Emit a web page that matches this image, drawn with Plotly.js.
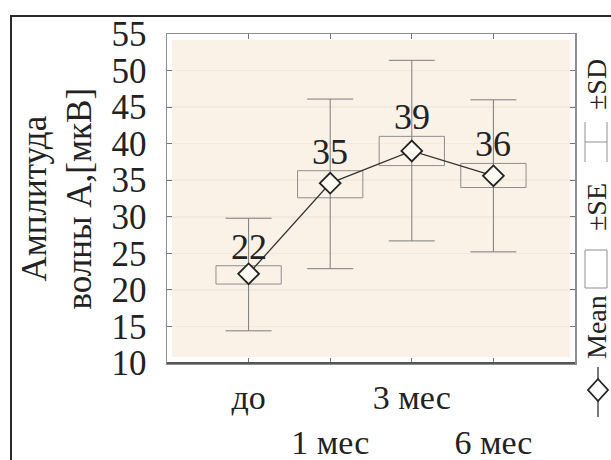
<!DOCTYPE html>
<html><head><meta charset="utf-8">
<script src="https://cdn.plot.ly/plotly-3.0.1.min.js"></script>
<style>
html,body{margin:0;padding:0;background:#fff;overflow:hidden;width:611px;height:460px}
#chart{position:absolute;left:0;top:0;width:611px;height:460px}
#frame{position:absolute;left:10px;top:15px;width:700px;height:600px;border:2px solid #2a2a2a;pointer-events:none}
</style></head><body>
<div id="chart"></div><div id="frame"></div>
<script>
// ---- data ----
const categories = ["до", "1 мес", "3 мес", "6 мес"];
const means  = [22.2, 34.6, 39.0, 35.6];
const seLow  = [20.8, 32.6, 37.0, 34.0];
const seHigh = [23.3, 36.3, 41.0, 37.3];
const sdLow  = [14.4, 22.9, 26.7, 25.2];
const sdHigh = [29.8, 46.1, 51.4, 46.0];
const yTicks = [10, 15, 20, 25, 30, 35, 40, 45, 50, 55];
const legendLabels = ["Mean", "±SE", "±SD"];
const yTitle = "Амплитуда<br>волны А,[мкВ]";

const FONT = "Liberation Serif";
const xs = categories.map((_, i) => i);
const tickText = categories.map((c, i) => (i % 2 ? "<br>" + c : c));

const traces = [
  { type: "bar", x: xs, base: seLow, y: seHigh.map((h, i) => h - seLow[i]), width: 0.8,
    marker: { color: "rgba(0,0,0,0)", line: { color: "#8e8e8e", width: 1 } },
    hoverinfo: "skip", showlegend: false },
  { type: "scatter", mode: "markers", x: xs, y: means,
    marker: { opacity: 0, size: 1 },
    error_y: { type: "data", symmetric: false,
      array: sdHigh.map((h, i) => h - means[i]),
      arrayminus: means.map((m, i) => m - sdLow[i]),
      width: 23, thickness: 1, color: "#7c7c7c" },
    showlegend: false },
  { type: "scatter", mode: "lines+markers", x: xs, y: means,
    line: { color: "#333", width: 1.3 },
    marker: { symbol: "diamond", size: 16, color: "#fdf9f3", line: { color: "#222", width: 1.8 } },
    showlegend: false }
];

// pixel helpers for legend decoration (plot area: x 167..575, y 34..363)
const px = x => (x - 167) / 408;
const py = y => (363 - y) / 329;

const annotations = xs.map((x, i) => ({
  x: x, y: seHigh[i], xref: "x", yref: "y", yanchor: "bottom", yshift: -3,
  text: String(Math.round(means[i])), showarrow: false,
  font: { family: FONT, size: 36, color: "#222" }
}));
annotations.push({
  x: 0, y: 0.5, xref: "paper", yref: "paper", xanchor: "center", yanchor: "middle",
  xshift: -110, textangle: -90, text: yTitle, showarrow: false,
  font: { family: FONT, size: 35, color: "#222" }
});
const legendPos = [327, 207, 85];
legendLabels.forEach((t, i) => annotations.push({
  x: px(596), y: py(legendPos[i]), xref: "paper", yref: "paper",
  xanchor: "center", yanchor: "middle", textangle: -90, text: t, showarrow: false,
  font: { family: FONT, size: 28, color: "#222" }
}));

const g = "#8e8e8e";
const shapes = [
  { type: "rect", xref: "paper", yref: "paper", x0: 0.012, x1: 0.988, y0: 0.018, y1: 0.982,
    fillcolor: "#faf2e7", line: { width: 0 }, layer: "below" },
  { type: "line", xref: "paper", yref: "paper", x0: 0, x1: 1, y0: 0, y1: 0, line: { color: "#555", width: 2 } },
  // legend: SD symbol
  { type: "line", xref: "paper", yref: "paper", x0: px(585), x1: px(585), y0: py(122), y1: py(162), line: { color: g, width: 1 } },
  { type: "line", xref: "paper", yref: "paper", x0: px(607), x1: px(607), y0: py(122), y1: py(162), line: { color: g, width: 1 } },
  { type: "line", xref: "paper", yref: "paper", x0: px(585), x1: px(607), y0: py(142), y1: py(142), line: { color: g, width: 1 } },
  // legend: SE box
  { type: "rect", xref: "paper", yref: "paper", x0: px(585), x1: px(607), y0: py(250), y1: py(288), line: { color: g, width: 1 } },
  // legend: mean diamond
  { type: "line", xref: "paper", yref: "paper", x0: px(598), x1: px(598), y0: py(367), y1: py(417), line: { color: "#333", width: 1.3 } },
  { type: "path", xref: "paper", yref: "paper",
    path: `M ${px(598)},${py(379)} L ${px(608)},${py(390)} L ${px(598)},${py(401)} L ${px(588)},${py(390)} Z`,
    fillcolor: "#fff", line: { color: "#222", width: 1.8 } }
];

const layout = {
  width: 611, height: 460,
  margin: { l: 167, r: 36, t: 34, b: 97, pad: 0 },
  paper_bgcolor: "rgba(0,0,0,0)", plot_bgcolor: "#ffffff",
  showlegend: false,
  font: { family: FONT, color: "#222" },
  xaxis: { range: [-1, 4], tickvals: xs, ticktext: tickText, tickangle: 0, ticks: "inside", ticklen: 5,
    tickcolor: "#777", showline: true, linecolor: g, linewidth: 1.5, mirror: "ticks",
    showgrid: false, zeroline: false, tickfont: { family: FONT, size: 34, color: "#222" },
    ticklabelstandoff: 4, fixedrange: true },
  yaxis: { range: [10, 55], tickvals: yTicks, ticks: "inside", ticklen: 5, tickcolor: "#777",
    showline: true, linecolor: g, linewidth: 1.5, mirror: "ticks",
    showgrid: true, gridcolor: "#f3eadf", gridwidth: 1.5, zeroline: false,
    tickfont: { family: FONT, size: 35, color: "#222" }, ticklabelstandoff: 12, fixedrange: true },
  annotations: annotations, shapes: shapes
};

Plotly.newPlot("chart", traces, layout, { staticPlot: true });
</script>
</body></html>
